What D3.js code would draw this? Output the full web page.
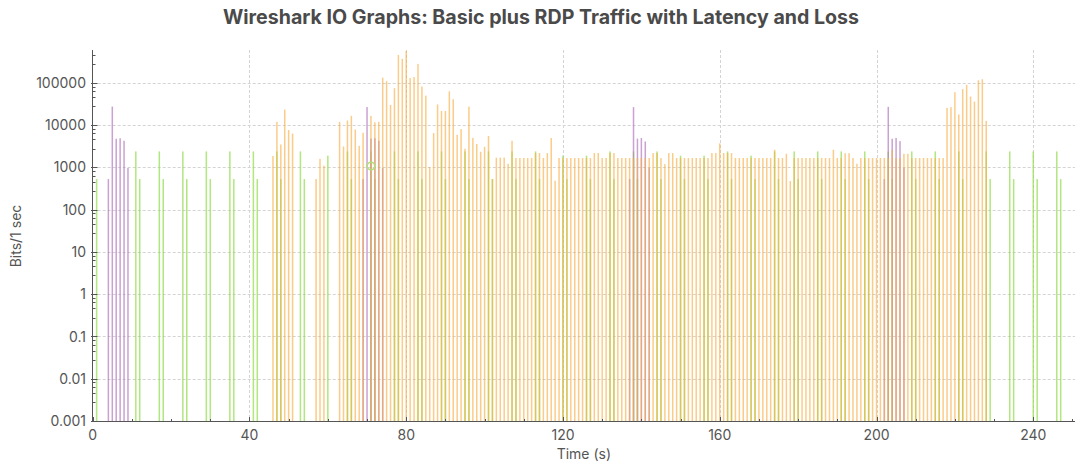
<!DOCTYPE html>
<html><head><meta charset="utf-8">
<script src="https://cdn.jsdelivr.net/npm/d3@7"></script>
<style>
body{margin:0;background:#fff}
svg{display:block}
text{font-family:Inter,"Noto Sans",sans-serif}
</style></head>
<body><svg id="chart" width="1075" height="463"></svg>
<script>
// ---------- data (seconds, bits per 1 s) ----------
const rdpTime = [46,47,48,49,50,51,57,58,59,63,64,65,66,67,68,69,
 71,72,73,74,75,76,77,78,79,80,81,82,83,84,85,86,87,88,89,90,
 91,92,93,94,95,96,97,98,99,100,101,102,103,104,105,106,107,108,109,110,
 111,112,113,114,115,116,117,118,119,120,121,122,123,124,125,126,127,128,129,130,
 131,132,133,134,135,136,137,138,139,140,141,142,143,144,145,146,147,148,149,150,
 151,152,153,154,155,156,157,158,159,160,161,162,163,164,165,166,167,168,169,170,
 171,172,173,174,175,176,177,178,179,180,181,182,183,184,185,186,187,188,189,190,
 191,192,193,194,195,196,197,198,199,200,201,202,203,204,205,206,207,208,209,210,
 211,212,213,214,215,216,217,218,219,220,221,222,223,224,225,226,227,228];
const rdpBits = [1860,11970,3490,23400,7650,6350,530,1600,1100,11970,3130,12900,16600,7900,3250,6600,
 16600,11700,11970,133000,110000,30000,75000,458000,369000,570000,130000,137000,281000,82000,50000,1020,6500,31000,21600,21600,
 63000,41000,5900,8070,2770,27500,5000,3570,2350,3080,5530,530,1700,1700,1700,1220,4270,1670,1670,1670,
 1670,1670,2190,2190,1670,2190,4960,485,1670,1670,1670,1670,1670,1670,1670,1670,1670,2190,2190,1670,
 1670,2190,2190,1670,1670,1670,1670,1670,1670,1670,1670,1670,2190,2190,1670,1200,2190,2190,1670,1670,
 1670,1670,1670,1670,1670,1670,1670,2190,2190,3700,2190,2190,2190,1670,1670,1670,1670,1670,1670,1670,
 1670,1670,1670,2610,1670,1670,2100,475,1670,1670,1670,1670,1670,1670,1670,1670,1670,1670,2610,1670,
 1670,2170,2170,1670,1220,1670,1670,1670,1670,1670,1670,1670,1670,2610,1670,1670,2100,2100,1670,1670,
 1670,1670,1670,1670,1670,1670,1670,25600,26600,60000,17900,71000,89700,47500,36200,115000,122000,12600];

const lossTime = [4,5,6,7,8,9,69,70,71,72,73,74,137,138,139,140,141,142,202,203,204,205,206,207];
const lossBits = [530,27500,4770,4900,4270,970,530,26800,4800,4900,4300,970,530,26700,4800,4960,4110,970,530,27100,4760,4990,4190,970];

const basicTime = [1,11,12,17,18,23,24,29,30,35,36,41,42,47,48,53,54,60,65,66,71,72,77,78,
 83,84,89,90,95,96,101,102,107,108,113,114,120,121,126,127,132,133,138,139,144,145,150,151,156,157,
 162,163,168,169,174,175,179,180,185,186,191,192,197,198,203,204,209,210,215,216,221,222,228,229,
 234,235,240,241,246,247];
const basicBits = [530,2390,530,2390,530,2390,530,2390,530,2390,530,2390,530,2390,530,2390,530,1900,2390,530,2390,530,2390,530,
 2390,530,2390,530,2390,530,2390,530,2390,530,2390,530,1900,530,1900,530,2390,530,2390,530,2390,530,1900,530,1900,530,
 2390,530,1900,530,2390,530,2390,530,2390,530,2390,530,2390,530,2390,530,2390,530,2390,530,2390,530,2390,530,
 2390,530,2390,530,2390,530];

const latencyTime = [71];
const latencyVal = [1080];

const xTicks = [0,40,80,120,160,200,240];
const yTicks = [0.001,0.01,0.1,1,10,100,1000,10000,100000];
const yTickLabels = ["0.001","0.01","0.1","1","10","100","1000","10000","100000"];

// ---------- chart ----------
const svg = d3.select("#chart");
const L = 92.7, R = 1075, T = 50, B = 421;
const x = d3.scaleLinear().domain([0, 250.65]).range([L, R]);
const y = d3.scaleLog().domain([1e-3, 6e5]).range([B, T]);

// title
svg.append("text").attr("x", 541).attr("y", 24).attr("text-anchor", "middle")
  .attr("font-size", 19.6).attr("font-weight", 700).attr("fill", "#4a4a4a")
  .text("Wireshark IO Graphs: Basic plus RDP Traffic with Latency and Loss");

// grid
const grid = svg.append("g").attr("stroke", "#d4d4d4").attr("stroke-dasharray", "3,2").attr("stroke-width", 1);
xTicks.filter(d => d > 0).forEach(d => {
  grid.append("line").attr("x1", Math.round(x(d)) + 0.5).attr("x2", Math.round(x(d)) + 0.5).attr("y1", T).attr("y2", B);
});
yTicks.filter(d => d > 0.001).forEach(d => {
  grid.append("line").attr("x1", L).attr("x2", R).attr("y1", Math.round(y(d)) + 0.5).attr("y2", Math.round(y(d)) + 0.5);
});

const bw = 1.5;
function bars(times, vals, color, op) {
  svg.append("g").selectAll("rect").data(times.map((t, i) => [t, vals[i]])).join("rect")
    .attr("x", d => x(d[0]) - bw / 2).attr("width", bw)
    .attr("y", d => y(d[1])).attr("height", d => B - y(d[1]))
    .attr("fill", color).attr("fill-opacity", op);
}
bars(basicTime, basicBits, "#94dc50", 0.72);
bars(lossTime, lossBits, "#b47abf", 0.7);
bars(rdpTime, rdpBits, "#f8ad40", 0.62);

// latency marker
svg.append("g").selectAll("circle").data(latencyTime.map((t, i) => [t, latencyVal[i]])).join("circle")
  .attr("cx", d => x(d[0])).attr("cy", d => y(d[1])).attr("r", 3.8)
  .attr("fill", "none").attr("stroke", "#b0df78").attr("stroke-width", 1.6);

// axes
const axis = svg.append("g").attr("stroke", "#555").attr("stroke-width", 1);
axis.append("line").attr("x1", 92.5).attr("x2", 92.5).attr("y1", T).attr("y2", B + 0.5);
axis.append("line").attr("x1", 92).attr("x2", R).attr("y1", B + 0.5).attr("y2", B + 0.5);

// x ticks
const xMinor = d3.range(0, 251, 10);
xMinor.forEach(d => {
  const major = xTicks.includes(d);
  const px = Math.round(x(d)) + 0.5;
  axis.append("line").attr("x1", px).attr("x2", px).attr("y1", B).attr("y2", B - (major ? 4 : 2));
});
svg.append("g").selectAll("text").data(xTicks).join("text")
  .attr("x", d => x(d)).attr("y", 440).attr("text-anchor", "middle")
  .attr("font-size", 14).attr("fill", "#555").text(d => d);

// y ticks
const yMinor = [];
[-3,-2,-1,0,1,2,3,4,5].forEach(e => [2.8,4.6,6.4,8.2].forEach(m => {
  const v = m * Math.pow(10, e); if (v < 6e5) yMinor.push(v);
}));
yMinor.forEach(v => {
  const py = Math.round(y(v)) + 0.5;
  axis.append("line").attr("x1", 92.5).attr("x2", 95.5).attr("y1", py).attr("y2", py);
});
yTicks.forEach(v => {
  const py = Math.round(y(v)) + 0.5;
  axis.append("line").attr("x1", 91).attr("x2", 97.5).attr("y1", py).attr("y2", py);
});
svg.append("g").selectAll("text").data(yTicks).join("text")
  .attr("x", 86).attr("y", d => y(d)).attr("dy", "0.36em").attr("text-anchor", "end")
  .attr("font-size", 14).attr("fill", "#555").text((d, i) => yTickLabels[i]);

// axis titles
svg.append("text").attr("x", (L + R) / 2).attr("y", 459).attr("text-anchor", "middle")
  .attr("font-size", 14).attr("fill", "#555").text("Time (s)");
svg.append("text").attr("transform", "translate(21,236) rotate(-90)").attr("text-anchor", "middle")
  .attr("font-size", 14).attr("fill", "#555").text("Bits/1 sec");
</script></body></html>
